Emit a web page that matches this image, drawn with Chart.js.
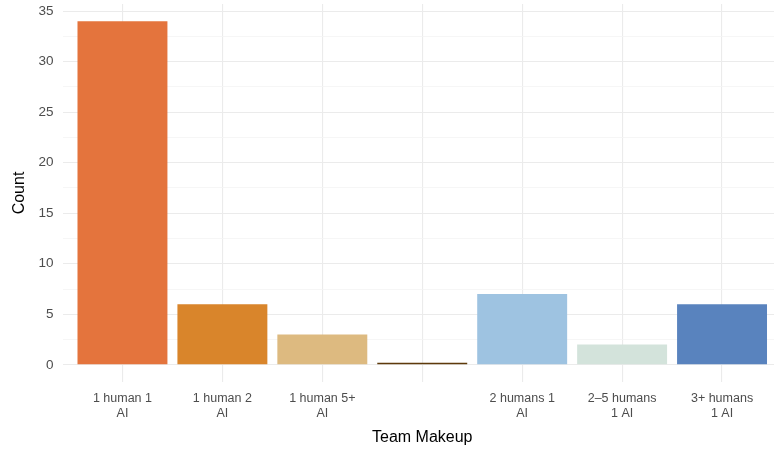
<!DOCTYPE html>
<html>
<head>
<meta charset="utf-8">
<script src="https://cdn.jsdelivr.net/npm/chart.js@4.4.1/dist/chart.umd.min.js"></script>
<style>
  html, body { margin: 0; padding: 0; background: #fff; overflow: hidden; }
  #wrap { width: 782px; height: 450px; }
</style>
</head>
<body>
<div id="wrap"><canvas id="myChart" width="782" height="450"></canvas></div>
<script>
// categories (two-line labels), counts and colours
const categorias = [
    ['1 human 1', 'AI'],
    ['1 human 2', 'AI'],
    ['1 human 5+', 'AI'],
    [''],
    ['2 humans 1', 'AI'],
    ['2\u20135 humans', '1 AI'],
    ['3+ humans', '1 AI']
];
const conteos = [34, 6, 3, 0.2, 7, 2, 6];
const colores = ['#E4743D', '#D9852B', '#DDBA80', '#5E3A0B', '#9EC3E1', '#D3E3DB', '#5983BE'];
const yTicks = [0, 5, 10, 15, 20, 25, 30, 35];

const fuente = "'Liberation Sans', Arial, sans-serif";

const data = {
    datasets: [{
        label: 'Count',
        data: conteos.map((v, i) => ({ x: i + 1, y: v })),
        backgroundColor: colores,
        borderWidth: 0,
        barPercentage: 0.9,
        categoryPercentage: 1
    }]
};

const config = {
    type: 'bar',
    data,
    options: {
        responsive: false,
        animation: false,
        layout: { padding: { top: 4, right: 0, bottom: 0, left: 0 } },
        plugins: {
            legend: { display: false },
            tooltip: { enabled: false }
        },
        scales: {
            x: {
                type: 'linear',
                min: 0.4,
                max: 7.6,
                offset: false,
                border: { display: false },
                afterBuildTicks: function (scale) {
                    scale.ticks = categorias.map((c, i) => ({ value: i + 1 }));
                },
                afterFit: function (scale) {
                    scale.height = 68;
                    scale.paddingLeft = 0;
                    scale.paddingRight = 0;
                },
                grid: { color: '#ebebeb', lineWidth: 1.1, drawTicks: false, offset: false },
                ticks: {
                    padding: 9,
                    maxRotation: 0,
                    autoSkip: false,
                    color: '#4d4d4d',
                    font: { family: fuente, size: 12.5, lineHeight: 1.2 },
                    callback: function (value) {
                        return categorias[value - 1];
                    }
                },
                title: {
                    display: true,
                    text: 'Team Makeup',
                    color: '#000',
                    font: { family: fuente, size: 16 },
                    padding: { top: 2, bottom: 3 }
                }
            },
            y: {
                min: -1.7,
                max: 35.7,
                border: { display: false },
                afterBuildTicks: function (scale) {
                    const t = [];
                    for (let v = 0; v <= 35; v += 2.5) t.push({ value: v });
                    scale.ticks = t;
                },
                afterFit: function (scale) {
                    scale.width = 62.5;
                    scale.paddingTop = 0;
                    scale.paddingBottom = 0;
                },
                grid: {
                    drawTicks: false,
                    color: ctx => (yTicks.includes(ctx.tick.value) ? '#ebebeb' : '#f4f4f4'),
                    lineWidth: ctx => (yTicks.includes(ctx.tick.value) ? 1.1 : 0.8)
                },
                ticks: {
                    padding: 9,
                    color: '#4d4d4d',
                    font: { family: fuente, size: 13.5 },
                    callback: function (value) {
                        return yTicks.includes(value) ? value : '';
                    }
                },
                title: {
                    display: true,
                    text: 'Count',
                    color: '#000',
                    font: { family: fuente, size: 16 },
                    padding: { top: 10, bottom: 2 }
                }
            }
        }
    }
};

const myChart = new Chart(document.getElementById('myChart'), config);
</script>
</body>
</html>
